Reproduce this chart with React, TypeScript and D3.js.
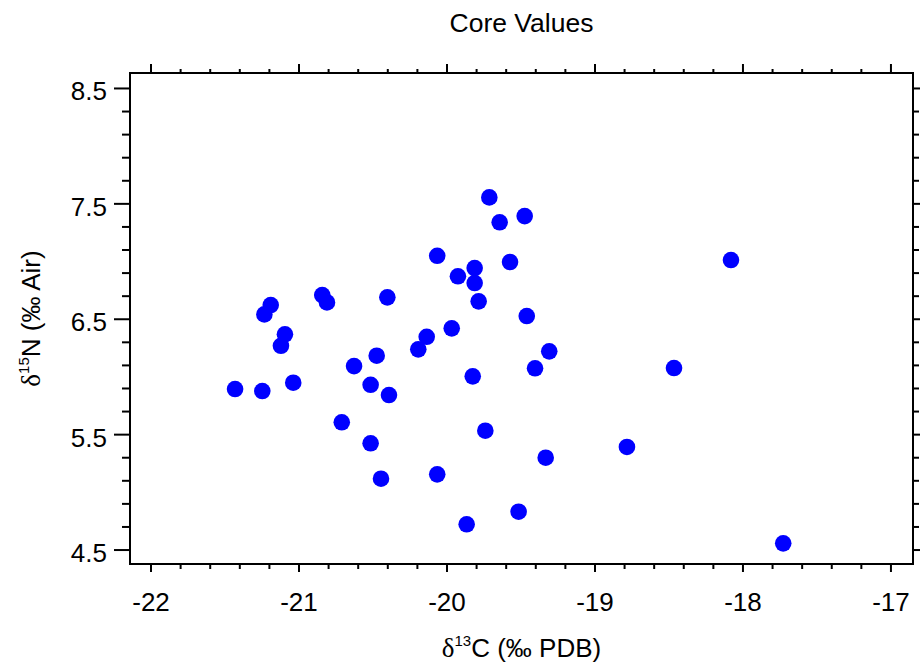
import React from "react";
import * as d3 from "d3";

const d13C: number[] = [
  -21.432, -21.248, -21.039, -21.234, -21.191, -21.122, -21.095, -20.843, -20.811, -20.628,
  -20.711, -20.516, -20.475, -20.516, -20.446, -20.392, -20.403, -20.194, -20.137, -20.066,
  -20.066, -19.968, -19.926, -19.867, -19.826, -19.813, -19.813, -19.786, -19.741, -19.714,
  -19.644, -19.574, -19.516, -19.475, -19.461, -19.405, -19.333, -19.309, -18.784, -18.466,
  -18.081, -17.728,
];
const d15N: number[] = [
  5.895, 5.878, 5.95, 6.542, 6.623, 6.27, 6.369, 6.71, 6.646, 6.094,
  5.607, 5.932, 6.184, 5.425, 5.118, 5.843, 6.69, 6.239, 6.348, 7.05,
  5.156, 6.421, 6.872, 4.723, 6.005, 6.944, 6.814, 6.655, 5.534, 7.556,
  7.34, 6.996, 4.832, 7.394, 6.528, 6.075, 5.3, 6.222, 5.393, 6.077,
  7.013, 4.558,
];
const xMajorTicks: number[] = [-22, -21, -20, -19, -18, -17];
const yMajorTicks: number[] = [4.5, 5.5, 6.5, 7.5, 8.5];
const xDomain: [number, number] = [-22.142, -16.851];
const yDomain: [number, number] = [4.379, 8.634];
const title = "Core Values";

const W = 920;
const H = 665;
const left = 130;
const right = 913;
const top = 73;
const bottom = 564;
const FONT = "'Liberation Sans', Arial, Helvetica, sans-serif";
const SERIF = "'Liberation Serif', 'Times New Roman', serif";

export default function App() {
  const x = d3.scaleLinear().domain(xDomain).range([left, right]);
  const y = d3.scaleLinear().domain(yDomain).range([bottom, top]);

  const xMinor = d3.range(-22, -16.99, 0.2).map((v) => +v.toFixed(2)).filter((v) => !xMajorTicks.some((m) => Math.abs(m - v) < 1e-6));
  const yMinor = d3.range(4.5, 8.51, 0.2).map((v) => +v.toFixed(2)).filter((v) => !yMajorTicks.some((m) => Math.abs(m - v) < 1e-6));

  const stroke = "#000";
  const sw = 2;

  return (
    <svg width={W} height={H} style={{ position: "absolute", left: 0, top: 0, background: "#fff" }} fontFamily={FONT}>
      <text x={(left + right) / 2} y={31.5} textAnchor="middle" fontSize={26.5}>{title}</text>

      {/* ticks */}
      <g stroke={stroke} strokeWidth={sw}>
        {xMajorTicks.map((v) => (
          <g key={"xm" + v}>
            <line x1={x(v)} x2={x(v)} y1={bottom} y2={bottom + 8} />
            <line x1={x(v)} x2={x(v)} y1={top} y2={top - 9} />
          </g>
        ))}
        {xMinor.map((v) => (
          <g key={"xn" + v}>
            <line x1={x(v)} x2={x(v)} y1={bottom} y2={bottom + 5} />
            <line x1={x(v)} x2={x(v)} y1={top} y2={top - 4} />
          </g>
        ))}
        {yMajorTicks.map((v) => (
          <g key={"ym" + v}>
            <line x1={left} x2={left - 16} y1={y(v)} y2={y(v)} />
            <line x1={right} x2={right + 8} y1={y(v)} y2={y(v)} />
          </g>
        ))}
        {yMinor.map((v) => (
          <g key={"yn" + v}>
            <line x1={left} x2={left - 8} y1={y(v)} y2={y(v)} />
            <line x1={right} x2={right + 6} y1={y(v)} y2={y(v)} />
          </g>
        ))}
      </g>

      <rect x={left} y={top} width={right - left} height={bottom - top} fill="none" stroke={stroke} strokeWidth={sw} />

      {/* tick labels */}
      {xMajorTicks.map((v) => (
        <text key={"xl" + v} x={x(v)} y={611} textAnchor="middle" fontSize={26}>{v}</text>
      ))}
      {yMajorTicks.map((v) => (
        <text key={"yl" + v} x={107} y={y(v) + 12} textAnchor="end" fontSize={26}>{v.toFixed(1)}</text>
      ))}

      {/* points */}
      <g fill="#0000ff">
        {d13C.map((c, i) => (
          <circle key={i} cx={x(c)} cy={y(d15N[i])} r={8.3} />
        ))}
      </g>

      {/* axis titles */}
      <text x={(left + right) / 2} y={657} textAnchor="middle" fontSize={26}>
        <tspan fontFamily={SERIF} fontSize={27}>δ</tspan>
        <tspan fontSize={15} dy={-11}>13</tspan>
        <tspan dy={11}>C (‰ PDB)</tspan>
      </text>
      <text transform={`translate(40, ${(top + bottom) / 2}) rotate(-90)`} textAnchor="middle" fontSize={26}>
        <tspan fontFamily={SERIF} fontSize={27}>δ</tspan>
        <tspan fontSize={15} dy={-11}>15</tspan>
        <tspan dy={11}>N (‰ Air)</tspan>
      </text>
    </svg>
  );
}
